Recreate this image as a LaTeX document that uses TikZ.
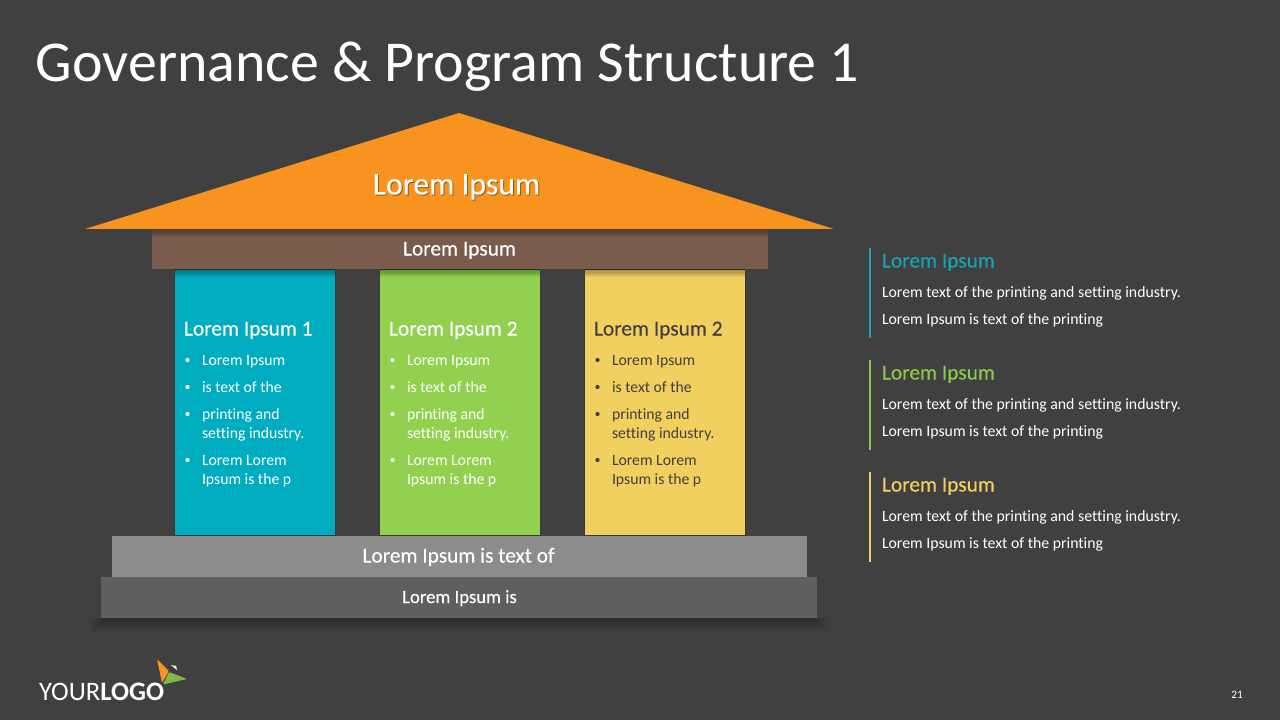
\documentclass[tikz,border=0pt]{standalone}
\usepackage{fontspec}
\setmainfont[Ligatures=NoCommon]{Carlito}
\newfontfamily\semib[Ligatures=NoCommon,FakeBold=0.35]{Carlito}
\definecolor{bgc}{HTML}{404040}
\definecolor{roofc}{HTML}{F7931E}
\definecolor{beamc}{HTML}{7A5C4C}
\definecolor{tealc}{HTML}{00ACBF}
\definecolor{greenc}{HTML}{92D14F}
\definecolor{yellowc}{HTML}{F2D060}
\definecolor{greyc}{HTML}{8C8C8C}
\definecolor{darkc}{HTML}{5F5F5F}
\definecolor{sideteal}{HTML}{19A3B2}
\definecolor{sidegreen}{HTML}{8CC84B}
\definecolor{sideyellow}{HTML}{F2D060}
\definecolor{inkc}{HTML}{404040}
\tikzset{
  x=0.75pt,y=-0.75pt,
  txt/.style={inner sep=0pt,outer sep=0pt,anchor=base west,text=white},
  ctxt/.style={inner sep=0pt,outer sep=0pt,anchor=base,text=white},
  heading/.style={txt,font=\semib\fontsize{16}{18}\selectfont},
  bodytxt/.style={txt,font=\fontsize{11.8}{13}\selectfont},
  sidehead/.style={txt,font=\semib\fontsize{16}{18}\selectfont},
  sidetxt/.style={txt,font=\fontsize{11.85}{13}\selectfont},
  bandtxt/.style={ctxt,font=\semib\fontsize{16}{18}\selectfont},
}
\begin{document}
\begin{tikzpicture}
\useasboundingbox (0,0) rectangle (1280,720);
\fill[bgc] (0,0) rectangle (1280,720);
% base shadow
\foreach \i in {1,...,10}
  \fill[black,opacity=0.025] ({88+1.6*\i},618) rectangle ({830-1.6*\i},{634-1.5*\i});
% pillars
\foreach \px/\col/\ink/\ttl/\nm in {174.5/tealc/white/Lorem Ipsum 1/a,379.5/greenc/white/Lorem Ipsum 2/b,584.5/yellowc/inkc/Lorem Ipsum 2/c}{
  \fill[\col] (\px,270) rectangle ({\px+160.5},535);
  \draw[black,opacity=0.12,line width=0.75pt] (\px,270) -- (\px,535) -- ({\px+160.5},535) -- ({\px+160.5},270);
  \foreach \i in {1,...,7}
    \fill[black,opacity=0.05] (\px,269) rectangle ({\px+160.5},{269+1.2*\i});
  \node[heading,text=\ink] (h\nm) at ({\px+9.5},335.5) {\ttl};
  \node[bodytxt,text=\ink] (ba\nm) at ({\px+27.5},365) {Lorem Ipsum};
  \node[bodytxt,text=\ink] (bb\nm) at ({\px+27.5},392) {is text of the};
  \node[bodytxt,text=\ink] (bc\nm) at ({\px+27.5},419) {printing and};
  \node[bodytxt,text=\ink] (bd\nm) at ({\px+27.5},438) {setting industry.};
  \node[bodytxt,text=\ink] (be\nm) at ({\px+27.5},465) {Lorem Lorem};
  \node[bodytxt,text=\ink] (bf\nm) at ({\px+27.5},484) {Ipsum is the p};
  \foreach \yy in {360,387,414,460}
    \fill[\ink] ({\px+13},\yy) circle (2.1);
}
% beam
\fill[beamc] (152,229) rectangle (768,269);
\foreach \i in {1,...,7}
  \fill[black,opacity=0.05] (152,229) rectangle (768,{229+1.2*\i});
\node[bandtxt] (beam) at (459.5,255.5) {Lorem Ipsum};
% roof
\fill[roofc] (459,113) -- (834,229) -- (85,229) -- cycle;
\node[ctxt,text=black,opacity=0.35,font=\semib\fontsize{23.7}{26}\selectfont] (roofs) at (457.5,195.5) {Lorem Ipsum};
\node[ctxt,font=\semib\fontsize{23.7}{26}\selectfont] (roof) at (456.5,194.5) {Lorem Ipsum};
% base
\fill[greyc] (112,536) rectangle (807,577);
\fill[darkc] (101,577) rectangle (817,618);
\node[bandtxt] (base1) at (458.5,562.5) {Lorem Ipsum is text of};
\node[ctxt,font=\semib\fontsize{14}{16}\selectfont] (base2) at (459.5,603) {Lorem Ipsum is};
% side notes
\foreach \yy/\col/\nm in {248/sideteal/p,360/sidegreen/q,472/sideyellow/r}{
  \draw[\col,line width=1.2pt] (870,\yy) -- (870,{\yy+90});
  \node[sidehead,text=\col] (s\nm) at (882,{\yy+19.5}) {Lorem Ipsum};
  \node[sidetxt] (t\nm) at (882,{\yy+49.3}) {Lorem text of the printing and setting industry.};
  \node[sidetxt] (u\nm) at (882,{\yy+76.3}) {Lorem Ipsum is text of the printing};
}
% title
\node[txt,font=\fontsize{43.4}{48}\selectfont] (title) at (36,82) {Governance \& Program Structure 1};
% logo
\fill[roofc,rounded corners=0.8pt] (157,659) -- (169,671) -- (162,683) -- cycle;
\fill[greenc!88!black,rounded corners=0.8pt] (169,672) -- (187,679) -- (163,684.5) -- cycle;
\fill[white] (171,665) -- (176,666) -- (177,670) -- cycle;
\node[txt,font=\fontsize{20}{22}\selectfont] (logo) at (39,700) {YOUR\textbf{LOGO}};
\node[ctxt,font=\fontsize{8.5}{10}\selectfont] (page) at (1237,698) {21};
\end{tikzpicture}
\end{document}
